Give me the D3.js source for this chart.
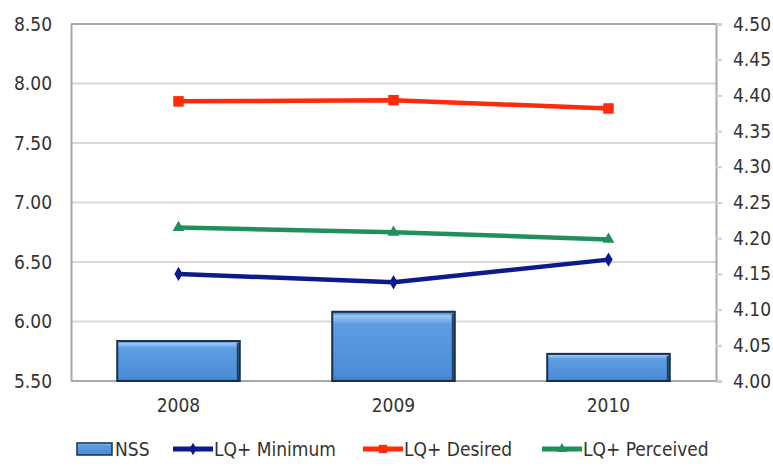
<!DOCTYPE html>
<html><head><meta charset="utf-8">
<script src="https://cdn.jsdelivr.net/npm/d3@7"></script>
<style>
html,body{margin:0;padding:0;background:#fff;}
svg{display:block;}
text{font-family:"DejaVu Sans Condensed","DejaVu Sans",sans-serif;fill:#333;}
</style></head>
<body>
<svg id="chart" width="773" height="466"></svg>
<script>
const years = ["2008","2009","2010"];
const nss = [4.056, 4.097, 4.038];
const lqMinimum = [6.40, 6.33, 6.52];
const lqDesired = [7.85, 7.86, 7.79];
const lqPerceived = [6.79, 6.75, 6.69];
const leftTicks = [5.5, 6.0, 6.5, 7.0, 7.5, 8.0, 8.5];
const rightTicks = [4.00,4.05,4.10,4.15,4.20,4.25,4.30,4.35,4.40,4.45,4.50];
const legendLabels = ["NSS","LQ+ Minimum","LQ+ Desired","LQ+ Perceived"];

const svg = d3.select("#chart");
const L = 71, R = 716, T = 24, B = 381;

const x = d3.scaleBand().domain(years).range([L, R]).paddingInner(0.43).paddingOuter(0.215);
const xc = d3.scalePoint().domain(years).range([L, R]).padding(0.5);
const yL = d3.scaleLinear().domain([5.5, 8.5]).range([B, T]);
const yR = d3.scaleLinear().domain([4.0, 4.5]).range([B, T]);

const defs = svg.append("defs");
const g1 = defs.append("linearGradient").attr("id","barGrad").attr("x1",0).attr("y1",0).attr("x2",0).attr("y2",1);
g1.append("stop").attr("offset","0%").attr("stop-color","#3a74bb");
g1.append("stop").attr("offset","6%").attr("stop-color","#9ac7f2");
g1.append("stop").attr("offset","18%").attr("stop-color","#5d9de1");
g1.append("stop").attr("offset","90%").attr("stop-color","#4b8dd7");
g1.append("stop").attr("offset","100%").attr("stop-color","#3f7cc2");

// gridlines
svg.append("g").selectAll("line").data(leftTicks).join("line")
  .attr("x1", L).attr("x2", R)
  .attr("y1", d => yL(d)).attr("y2", d => yL(d))
  .attr("stroke", d => d === 5.5 || d === 8.5 ? "#a8a8a8" : "#d8d8d8")
  .attr("stroke-width", 2);

// left axis
const axL = svg.append("g").attr("transform", `translate(${L},0)`)
  .call(d3.axisLeft(yL).tickValues(leftTicks).tickFormat(d3.format(".2f")).tickSize(0).tickPadding(19));
axL.select(".domain").attr("stroke","#a8a8a8").attr("stroke-width",2);
axL.selectAll("text").style("font-size","19px").attr("fill","#333").style("font-family",null);

// right axis
const axR = svg.append("g").attr("transform", `translate(${R},0)`)
  .call(d3.axisRight(yR).tickValues(rightTicks).tickFormat(d3.format(".2f")).tickSize(6).tickPadding(11));
axR.select(".domain").attr("stroke","#a8a8a8").attr("stroke-width",2);
axR.selectAll(".tick line").attr("stroke","#d0d0d0").attr("stroke-width",2);
axR.selectAll("text").style("font-size","19px").attr("fill","#333").style("font-family",null);

// x labels
svg.append("g").selectAll("text").data(years).join("text")
  .attr("x", d => xc(d)).attr("y", 412).attr("text-anchor","middle")
  .style("font-size","19px").text(d => d);

// bars
const bars = svg.append("g");
bars.selectAll("rect").data(years).join("rect")
  .attr("x", d => x(d)).attr("width", x.bandwidth())
  .attr("y", (d,i) => yR(nss[i])).attr("height", (d,i) => B - yR(nss[i]))
  .attr("fill","url(#barGrad)").attr("stroke","#17304f").attr("stroke-width",2);
bars.selectAll("line.rs").data(years).join("line").attr("class","rs")
  .attr("x1", d => x(d)+x.bandwidth()-2).attr("x2", d => x(d)+x.bandwidth()-2)
  .attr("y1", (d,i) => yR(nss[i])+2).attr("y2", B-1)
  .attr("stroke","#1f3f66").attr("stroke-width",2);

// lines
const series = [
  {name:"LQ+ Minimum", vals:lqMinimum, color:"#0d1a8c", marker:"diamond"},
  {name:"LQ+ Desired", vals:lqDesired, color:"#ff2a0a", marker:"square"},
  {name:"LQ+ Perceived", vals:lqPerceived, color:"#1f905c", marker:"triangle"}
];
const line = d3.line().x((d,i) => xc(years[i])).y(d => yL(d));
const sym = {diamond:d3.symbolDiamond, square:d3.symbolSquare, triangle:d3.symbolTriangle};
series.forEach(s => {
  svg.append("path").datum(s.vals).attr("d", line).attr("fill","none")
    .attr("stroke", s.color).attr("stroke-width", 4.5).attr("stroke-linejoin","round");
  svg.append("g").selectAll("path").data(s.vals).join("path")
    .attr("transform",(d,i) => `translate(${xc(years[i])},${yL(d)})`)
    .attr("d", d3.symbol().type(sym[s.marker]).size(s.marker==="square"?110:60))
    .attr("fill", s.color);
});

// legend
const lg = svg.append("g");
const legX = [77, 173, 363, 542];
const gy = 449;
legendLabels.forEach((lab, i) => {
  const gx = legX[i];
  if (i === 0) {
    lg.append("rect").attr("x", gx).attr("y", gy-6).attr("width", 35).attr("height", 12)
      .attr("fill","url(#barGrad)").attr("stroke","#17304f").attr("stroke-width",1.5);
  } else {
    const s = series[i-1];
    lg.append("line").attr("x1", gx).attr("x2", gx+40).attr("y1", gy).attr("y2", gy)
      .attr("stroke", s.color).attr("stroke-width", 5);
    lg.append("path").attr("transform", `translate(${gx+20},${gy})`)
      .attr("d", d3.symbol().type(sym[s.marker]).size(s.marker==="square"?70:45)).attr("fill", s.color);
  }
  lg.append("text").attr("x", gx + (i===0?38:41)).attr("y", gy+7)
    .style("font-size","19px").text(lab);
});
</script>
</body></html>
